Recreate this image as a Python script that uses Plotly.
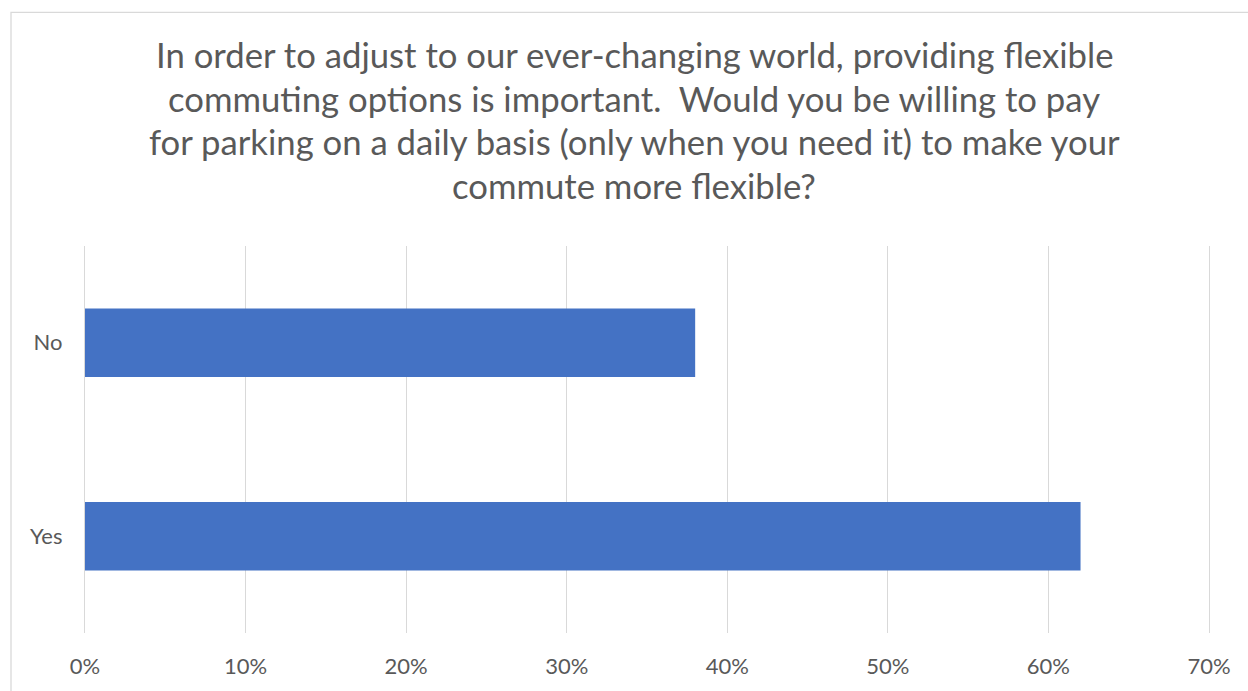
import plotly.graph_objects as go

# Survey responses (share of respondents, %)
categories = ["Yes", "No"]
shares = [62, 38]

title_lines = [
    "In order to adjust to our ever-changing world, providing flexible",
    "commuting options is important.  Would you be willing to pay",
    "for parking on a daily basis (only when you need it) to make your",
    "commute more flexible?",
]

W, H = 1248, 691
M_L, M_R, M_T, M_B = 85, 39, 246, 55
PW, PH = W - M_L - M_R, H - M_T - M_B


def px_x(x):
    return (x - M_L) / PW


def px_y(y):
    return (H - M_B - y) / PH


GRAY = "#595959"
GRID = "#D9D9D9"
FONT = "Lato"

fig = go.Figure(
    go.Bar(
        x=shares,
        y=categories,
        orientation="h",
        marker=dict(color="#4472C4", line=dict(width=0)),
        hoverinfo="x+y",
    )
)

annotations = []
line_mid = 53
for i, line in enumerate(title_lines):
    annotations.append(
        dict(
            text=line,
            xref="paper",
            yref="paper",
            x=px_x(634),
            y=px_y(line_mid + i * 44),
            xanchor="center",
            yanchor="middle",
            showarrow=False,
            font=dict(family=FONT, size=34.7, color=GRAY),
        )
    )

fig.update_layout(
    width=W,
    height=H,
    margin=dict(l=M_L, r=M_R, t=M_T, b=M_B, pad=0),
    paper_bgcolor="white",
    plot_bgcolor="white",
    showlegend=False,
    bargap=0.647,
    annotations=annotations,
    shapes=[
        dict(
            type="rect",
            xref="paper",
            yref="paper",
            x0=px_x(11),
            x1=px_x(1262),
            y0=px_y(700),
            y1=px_y(10.5),
            line=dict(color=GRID, width=1.3),
            fillcolor="rgba(0,0,0,0)",
            layer="below",
        )
    ],
    xaxis=dict(
        range=[0, 70],
        dtick=10,
        tick0=0,
        ticksuffix="%",
        showgrid=True,
        gridcolor=GRID,
        gridwidth=1.3,
        zeroline=False,
        showline=False,
        ticks="",
        ticklabelstandoff=18,
        tickfont=dict(family=FONT, size=22, color=GRAY),
        fixedrange=True,
    ),
    yaxis=dict(
        categoryorder="array",
        categoryarray=categories,
        showgrid=False,
        zeroline=False,
        # axis line mirrored on both sides stands in for the 0% and 70% gridlines
        showline=True,
        mirror=True,
        linecolor=GRID,
        linewidth=1.3,
        ticks="",
        ticklabelstandoff=17,
        tickfont=dict(family=FONT, size=22, color=GRAY),
        fixedrange=True,
    ),
)

fig.write_html("out.html", config={"displayModeBar": False})
